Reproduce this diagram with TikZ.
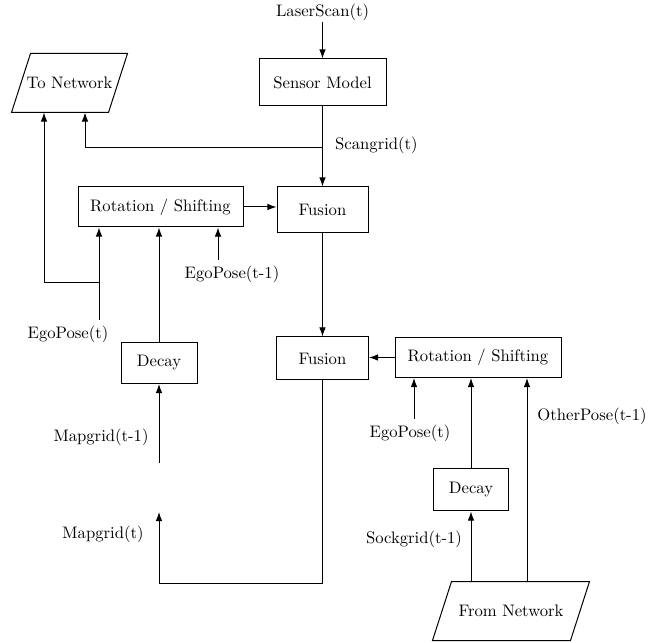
\documentclass[tikz,border=0pt]{standalone}
\usetikzlibrary{arrows.meta}
\begin{document}
\begin{tikzpicture}[x=0.6pt,y=-0.6pt,
  line width=0.6pt,
  box/.style={draw,rectangle,inner sep=0pt},
  para/.style={rectangle,inner sep=0pt,minimum height=34.8pt},
  arr/.style={-{Latex[length=5.5pt,width=4pt]}},
  lbl/.style={inner sep=1pt}]
\useasboundingbox (0,0) rectangle (667,643);
% nodes
\node[lbl] (laser) at (322.5,12) {LaserScan(t)};
\node[box,minimum width=76.2pt,minimum height=28.2pt] (sensor) at (322.5,82.5) {Sensor Model};
\node[para,minimum width=57.6pt] (tonet) at (69.5,83) {To Network};
\node[box,minimum width=54.6pt,minimum height=27.6pt] (fusion1) at (322.5,210) {Fusion};
\node[box,minimum width=99pt,minimum height=24pt] (rs1) at (160.5,207) {Rotation / Shifting};
\node[box,minimum width=45.6pt,minimum height=24.6pt] (decay1) at (159,363) {Decay};
\node[box,minimum width=55.2pt,minimum height=25.8pt] (fusion2) at (322.5,358.5) {Fusion};
\node[box,minimum width=99.6pt,minimum height=24pt] (rs2) at (478,357.5) {Rotation / Shifting};
\node[box,minimum width=45pt,minimum height=25.2pt] (decay2) at (471,490) {Decay};
\node[para,minimum width=82.2pt] (fromnet) at (511,611) {From Network};
% parallelogram outlines
\draw ([xshift=5.7pt]tonet.north west) -- ([xshift=5.7pt]tonet.north east) -- ([xshift=-5.7pt]tonet.south east) -- ([xshift=-5.7pt]tonet.south west) -- cycle;
\draw ([xshift=5.7pt]fromnet.north west) -- ([xshift=5.7pt]fromnet.north east) -- ([xshift=-5.7pt]fromnet.south east) -- ([xshift=-5.7pt]fromnet.south west) -- cycle;
% labels
\node[lbl,anchor=west] (scan) at (333,145) {Scangrid(t)};
\node[lbl] (ego1) at (68,334) {EgoPose(t)};
\node[lbl] (egoprev) at (232,274) {EgoPose(t-1)};
\node[lbl] (map1) at (101,437) {Mapgrid(t-1)};
\node[lbl] (map2) at (103,534) {Mapgrid(t)};
\node[lbl] (ego2) at (410,433) {EgoPose(t)};
\node[lbl] (sock) at (414,539) {Sockgrid(t-1)};
\node[lbl] (other) at (592,416) {OtherPose(t-1)};
% coordinates
\coordinate (br1) at (322.5,148);
\coordinate (e1) at (99,320);
\coordinate (b2) at (99,283);
\coordinate (e2) at (218,260);
\coordinate (m1) at (159,463);
\coordinate (m2) at (159,512);
\coordinate (mc) at (159,583);
\coordinate (e3) at (414,419);
% connectors
\draw[arr] (laser) -- (sensor);
\draw[arr] (sensor) -- (fusion1);
\draw[arr] (br1) -| ([xshift=9.3pt]tonet.south);
\draw[arr] (e1) -- (e1 |- rs1.south);
\draw[arr] (b2) -| ([xshift=-15.3pt]tonet.south);
\draw[arr] (rs1.east) -- (rs1.east -| fusion1.west);
\draw[arr] (decay1.north) -- (decay1.north |- rs1.south);
\draw[arr] (e2) -- (e2 |- rs1.south);
\draw[arr] (m1) -- (decay1.south);
\draw[arr] (fusion1) -- (fusion2);
\draw[arr] (fusion2.south) |- (mc) -- (m2);
\draw[arr] (rs2.west) -- (rs2.west -| fusion2.east);
\draw[arr] (e3) -- (e3 |- rs2.south);
\draw[arr] (decay2.north) -- (decay2.north |- rs2.south);
\draw[arr] (fromnet.north -| decay2.south) -- (decay2.south);
\draw[arr] ([xshift=9.6pt]fromnet.north) -- ([xshift=9.6pt]fromnet.north |- rs2.south);
\end{tikzpicture}
\end{document}
